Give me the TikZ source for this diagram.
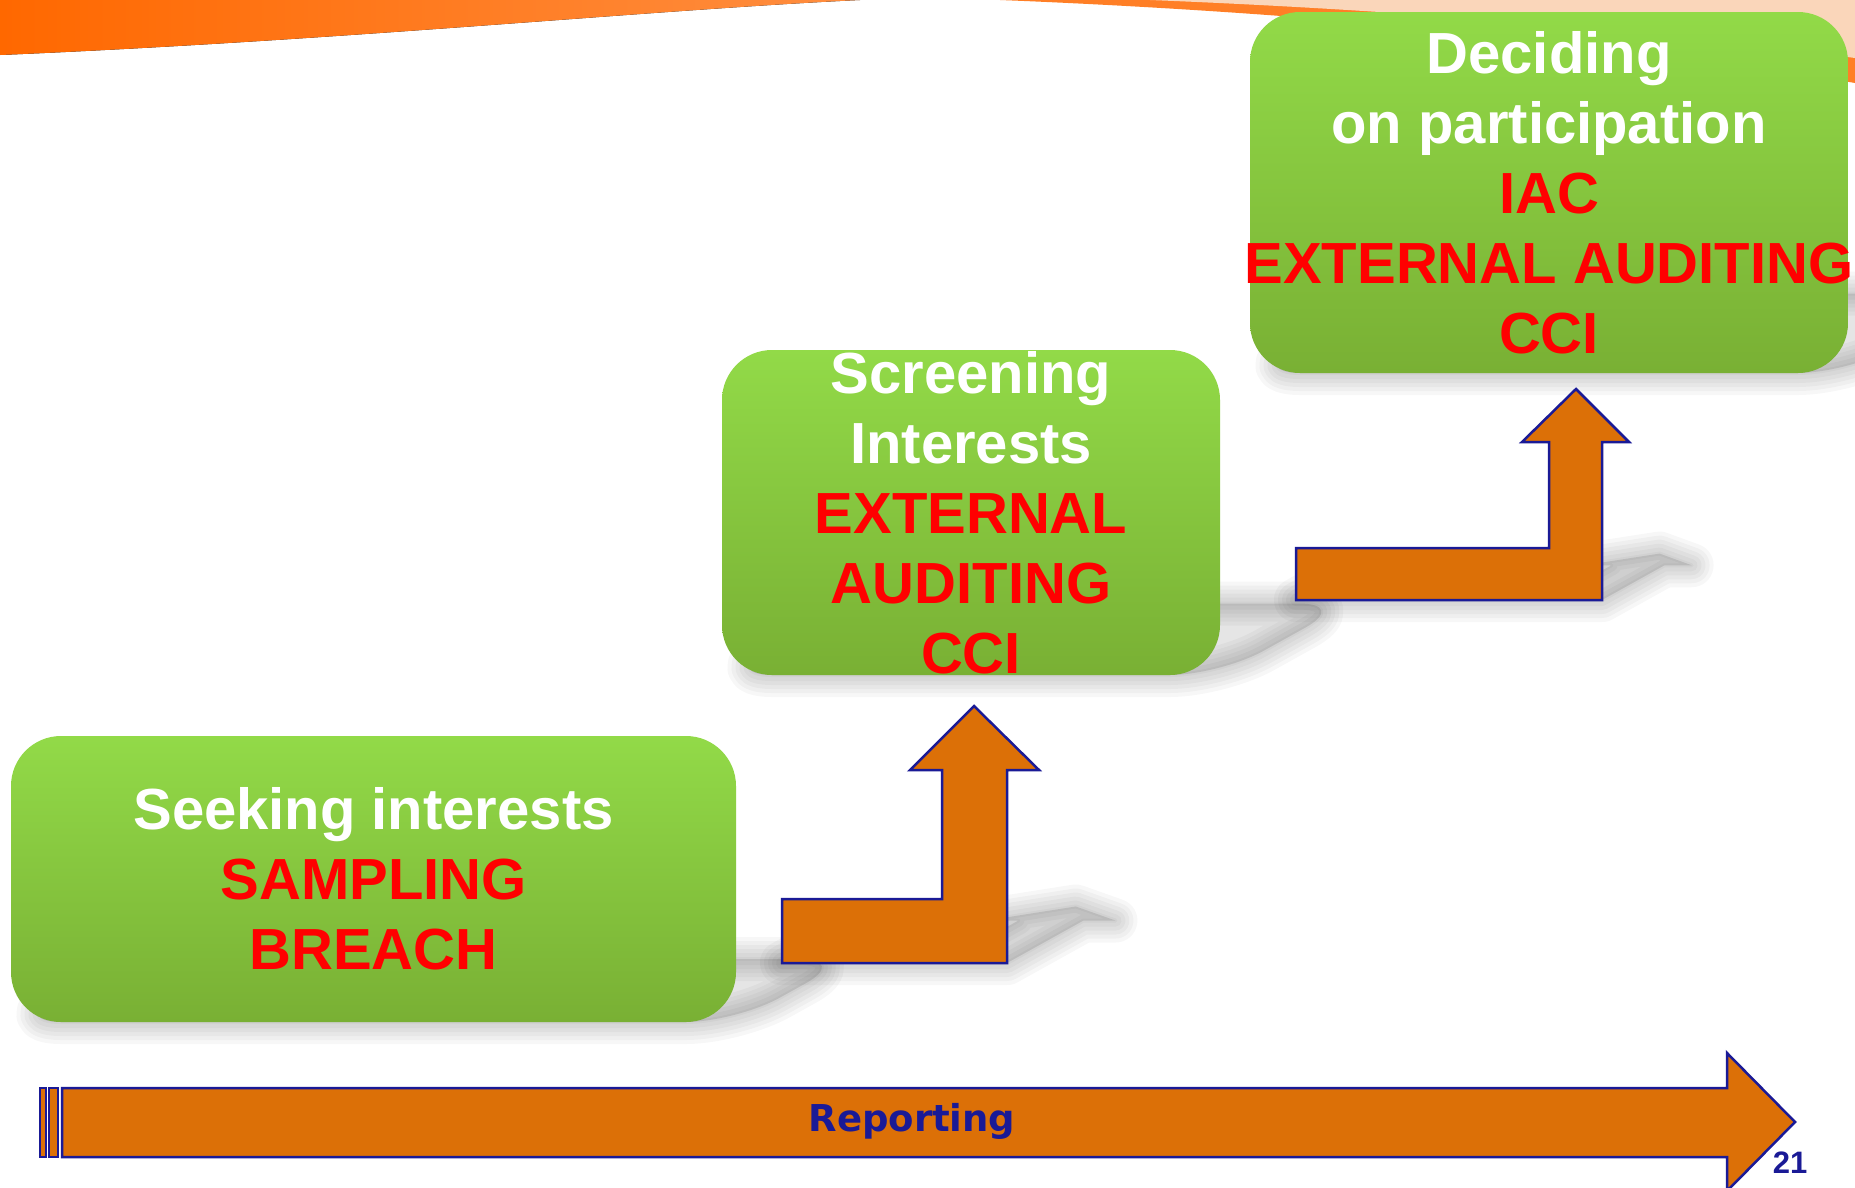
\documentclass[tikz,border=0pt]{standalone}
\usepackage{fontspec}
\setmainfont{Liberation Sans}
\newfontfamily\reportfont{DejaVu Sans}

\definecolor{arroworange}{RGB}{220,112,7}
\definecolor{navy}{RGB}{26,26,150}
\definecolor{boxtop}{RGB}{146,218,72}
\definecolor{boxbot}{RGB}{121,176,52}
\definecolor{swoosh}{RGB}{255,104,0}
\definecolor{peach}{RGB}{250,214,186}

% soft perspective shadow: #1 = bottom line, #2 = outline
\newcommand{\softshadow}[2]{%
  \begin{scope}[yshift=-#1pt, xslant=1.8, yscale=0.22, yshift=#1pt]
    \foreach \w in {44,36,28,20,12,4}
      \path[draw=black, opacity=0.03, line width=\w pt, line join=round] #2;
    \path[fill=black, opacity=0.1] #2;
  \end{scope}}

\begin{document}
\begin{tikzpicture}[x=1pt, y=-1pt,
  stepbox/.style={rounded corners=50pt, top color=boxtop, bottom color=boxbot, inner sep=0pt},
  boxtext/.style={align=center, text=white, font=\bfseries\fontsize{58}{70}\selectfont},
  blockarrow/.style={fill=arroworange, draw=navy, line width=2.5pt, line join=miter}]

  \useasboundingbox[fill=white] (0,0) rectangle (1855,1187);

  % orange swoosh at the top
  \fill[left color=swoosh, right color=swoosh!75!white] (0,0) -- (860,0)
    .. controls (650,10) and (350,40) .. (0,55) -- cycle;
  \fill[swoosh!85!white] (1000,0) .. controls (1300,12) and (1600,40) .. (1855,83) -- (1855,0) -- cycle;
  \fill[peach] (1150,0) .. controls (1400,10) and (1650,30) .. (1855,58) -- (1855,0) -- cycle;

  % shadows
  \softshadow{1022}{[rounded corners=50pt] (11,736) rectangle (736,1022)}
  \softshadow{675}{[rounded corners=50pt] (722,350) rectangle (1220,675)}
  \softshadow{373}{[rounded corners=50pt] (1250,12) rectangle (1848,373)}
  \softshadow{963}{(782,899) -- (942,899) -- (942,770) -- (910,770) -- (974,706) -- (1039,770) -- (1007,770) -- (1007,963) -- (782,963) -- cycle}
  \softshadow{600}{(1296,548) -- (1549,548) -- (1549,442) -- (1522,442) -- (1576,389) -- (1629,442) -- (1602,442) -- (1602,600) -- (1296,600) -- cycle}

  % steps
  \node[stepbox, minimum width=725pt, minimum height=286pt] (seek) at (373.5,879) {};
  \node[boxtext] (seek text) at (seek.center)
    {Seeking interests\\ \textcolor{red}{SAMPLING}\\ \textcolor{red}{BREACH}};

  \node[stepbox, minimum width=498pt, minimum height=325pt] (screen) at (971,512.5) {};
  \node[boxtext] (screen text) at (screen.center)
    {Screening\\ Interests\\ \textcolor{red}{EXTERNAL}\\ \textcolor{red}{AUDITING}\\ \textcolor{red}{CCI}};

  \node[stepbox, minimum width=598pt, minimum height=361pt] (decide) at (1549,192.5) {};
  \node[boxtext] (decide text) at (decide.center)
    {Deciding\\ on participation\\ \textcolor{red}{IAC}\\ \textcolor{red}{EXTERNAL AUDITING}\\ \textcolor{red}{CCI}};

  % bent arrows between the steps
  \draw[blockarrow] (782,899) -- (942,899) -- (942,770) -- (910,770) -- (974,706)
    -- (1039,770) -- (1007,770) -- (1007,963) -- (782,963) -- cycle;
  \draw[blockarrow] (1296,548) -- (1549,548) -- (1549,442) -- (1522,442) -- (1576,389)
    -- (1629,442) -- (1602,442) -- (1602,600) -- (1296,600) -- cycle;

  % reporting arrow
  \draw[blockarrow] (40,1088) rectangle (46,1157);
  \draw[blockarrow] (49,1088) rectangle (58,1157);
  \draw[blockarrow] (62,1088) -- (1727,1088) -- (1727,1053) -- (1795,1122)
    -- (1727,1191) -- (1727,1157) -- (62,1157) -- cycle;
  \node[font=\reportfont\bfseries\fontsize{37}{44}\selectfont, text=navy] (report) at (912,1121) {Reporting};

  \node[font=\bfseries\fontsize{31}{36}\selectfont, text=navy] (page) at (1790,1163) {21};
\end{tikzpicture}
\end{document}
